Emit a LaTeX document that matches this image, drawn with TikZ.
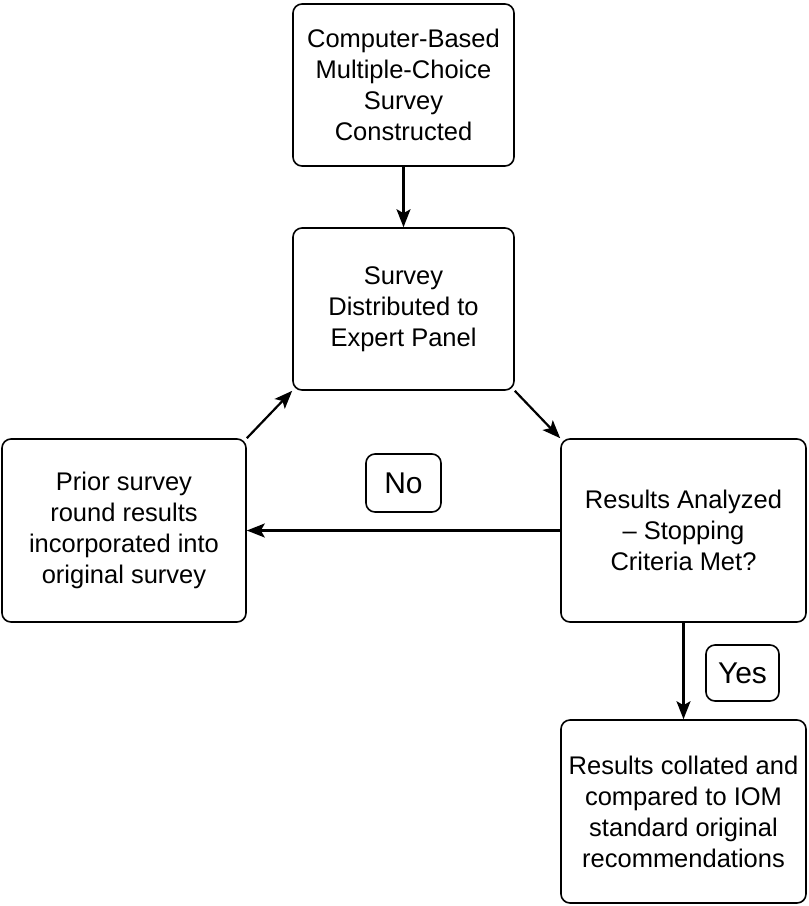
\documentclass[tikz,border=0pt]{standalone}
\usepackage{fontspec}
\setmainfont{Liberation Sans}
\usepackage{tikz}
\usetikzlibrary{arrows.meta}

\tikzset{flow/.style={draw, line width=2.2pt, -{Stealth[length=18pt,width=14pt,inset=4pt]}}}

\begin{document}
\begin{tikzpicture}[x=1pt,y=-1pt]
                \useasboundingbox (0,0) rectangle (809,906);
                \begin{scope}[every node/.style={draw, line width=1.6pt, rounded corners=9pt, align=center, inner sep=0pt, font=\fontsize{25.5}{31}\selectfont}]
                        \node [minimum width=221, minimum height=162] (Construct) at (403.5,85) {Computer-Based\\Multiple-Choice\\Survey\\Constructed};
                        \node [minimum width=221, minimum height=162] (Distribute) at (403.5,309) {Survey\\Distributed to\\Expert Panel};
                        \node [minimum width=244, minimum height=183] (Prior) at (124,530.5) {Prior survey\\round results\\incorporated into\\original survey};
                        \node [minimum width=245, minimum height=183] (Analyze) at (683.5,530.5) {Results Analyzed\\– Stopping\\Criteria Met?};
                        \node [minimum width=245, minimum height=183] (Collate) at (683.5,811.5) {Results collated and\\compared to IOM\\standard original\\recommendations};
                        \node [minimum width=75, minimum height=58, font=\fontsize{30}{36}\selectfont] (No) at (403.5,483) {No};
                        \node [minimum width=73, minimum height=56, font=\fontsize{30}{36}\selectfont] (Yes) at (742.5,673) {Yes};
                \end{scope}
                \draw [flow] (Construct) -- (Distribute);
                \draw [flow] (Distribute.south east) -- (Analyze.north west);
                \draw [flow] (Analyze) -- (Prior);
                \draw [flow] (Prior.north east) -- (Distribute.south west);
                \draw [flow] (Analyze) -- (Collate);
        \end{tikzpicture}
\end{document}
